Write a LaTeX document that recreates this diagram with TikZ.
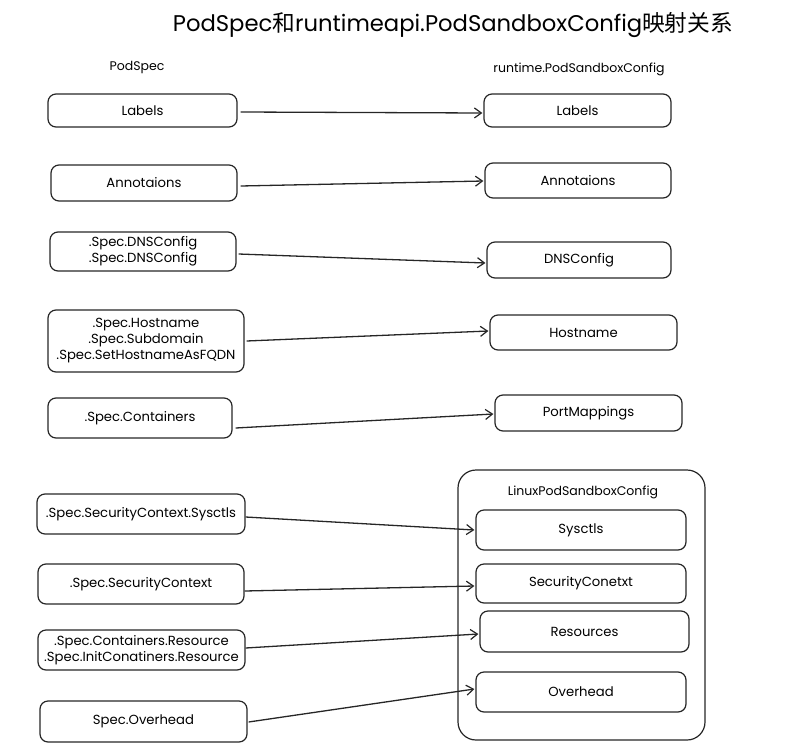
\documentclass[tikz,border=0pt]{standalone}
\usepackage{fontspec}
\setmainfont{Poppins}
\newfontfamily\cjkfont{Noto Sans CJK SC}
\usetikzlibrary{arrows.meta}
\tikzset{
  box/.style={draw=black!85, line width=1.2pt, rounded corners=8pt, align=center,
    inner sep=0pt, font=\fontsize{13.2}{16}\selectfont},
  group/.style={draw=black!85, line width=1.2pt, rounded corners=18pt, inner sep=0pt},
  conn/.style={draw=black!85, line width=1.3pt, -{Straight Barb[length=7pt,width=10pt,line width=1.2pt]}},
  head/.style={font=\fontsize{12.5}{14}\selectfont, inner sep=0pt},
}
\begin{document}
\begin{tikzpicture}[x=1pt,y=-1pt]
\useasboundingbox (0,0) rectangle (811,755);
\node[font=\fontsize{22.7}{26}\selectfont, inner sep=0pt] (title) at (453,25) {PodSpec{\cjkfont 和}runtimeapi.PodSandboxConfig{\cjkfont 映射关系}};
\node[head] (hl) at (137,67) {PodSpec};
\node[head] (hr) at (579,69) {runtime.PodSandboxConfig};
% container
\node[group, minimum width=247pt, minimum height=270pt] (grp) at (581.5,605) {};
\node[head] (gt) at (583,492) {LinuxPodSandboxConfig};
% left
\node[box, minimum width=189pt, minimum height=33pt] (l1) at (142.5,110.5) {Labels};
\node[box, minimum width=186pt, minimum height=36pt] (l2) at (144,183) {Annotaions};
\node[box, minimum width=186pt, minimum height=39pt] (l3) at (143,251.5) {.Spec.DNSConfig\\.Spec.DNSConfig};
\node[box, minimum width=196pt, minimum height=62pt] (l4) at (146,341) {.Spec.Hostname\\.Spec.Subdomain\\.Spec.SetHostnameAsFQDN};
\node[box, minimum width=184pt, minimum height=40pt] (l5) at (140,418) {.Spec.Containers};
\node[box, minimum width=208pt, minimum height=40pt] (l6) at (141,514) {.Spec.SecurityContext.Sysctls};
\node[box, minimum width=206pt, minimum height=40pt] (l7) at (141,584) {.Spec.SecurityContext};
\node[box, minimum width=207pt, minimum height=40pt] (l8) at (141.5,650) {.Spec.Containers.Resource\\.Spec.InitConatiners.Resource};
\node[box, minimum width=207pt, minimum height=41pt] (l9) at (143.5,721.5) {Spec.Overhead};
% right
\node[box, minimum width=187pt, minimum height=33pt] (r1) at (577.5,110.5) {Labels};
\node[box, minimum width=186pt, minimum height=35pt] (r2) at (578,180.5) {Annotaions};
\node[box, minimum width=184pt, minimum height=36pt] (r3) at (579,260) {DNSConfig};
\node[box, minimum width=187pt, minimum height=35pt] (r4) at (583.5,332.5) {Hostname};
\node[box, minimum width=187pt, minimum height=36pt] (r5) at (588.5,413) {PortMappings};
\node[box, minimum width=210pt, minimum height=40pt] (r6) at (581,530) {Sysctls};
\node[box, minimum width=210pt, minimum height=39pt] (r7) at (581,583.5) {SecurityConetxt};
\node[box, minimum width=209pt, minimum height=41pt] (r8) at (584.5,631.5) {Resources};
\node[box, minimum width=210pt, minimum height=40pt] (r9) at (581,692) {Overhead};
% connectors
\draw[conn] ([xshift=3pt,yshift=-1.5pt]l1.east) -- ([xshift=-1pt,yshift=-2.5pt]r1.west);
\draw[conn] ([xshift=3pt,yshift=-3pt]l2.east) -- ([xshift=-1pt,yshift=-0.5pt]r2.west);
\draw[conn] ([xshift=2pt,yshift=-2.5pt]l3.east) -- ([xshift=-1pt,yshift=-3pt]r3.west);
\draw[conn] ([xshift=2pt,yshift=0pt]l4.east) -- ([xshift=-1pt,yshift=1.5pt]r4.west);
\draw[conn] ([xshift=3pt,yshift=-10pt]l5.east) -- ([xshift=-1pt,yshift=-1pt]r5.west);
\draw[conn] ([xshift=0pt,yshift=-3pt]l6.east) -- ([xshift=-1pt,yshift=0pt]r6.west);
\draw[conn] ([xshift=0pt,yshift=-7pt]l7.east) -- ([xshift=-1pt,yshift=-2.5pt]r7.west);
\draw[conn] ([xshift=0pt,yshift=2pt]l8.east) -- ([xshift=-1pt,yshift=-2.5pt]r8.west);
\draw[conn] ([xshift=1pt,yshift=-0.5pt]l9.east) -- ([xshift=-1pt,yshift=3pt]r9.west);
\end{tikzpicture}
\end{document}
